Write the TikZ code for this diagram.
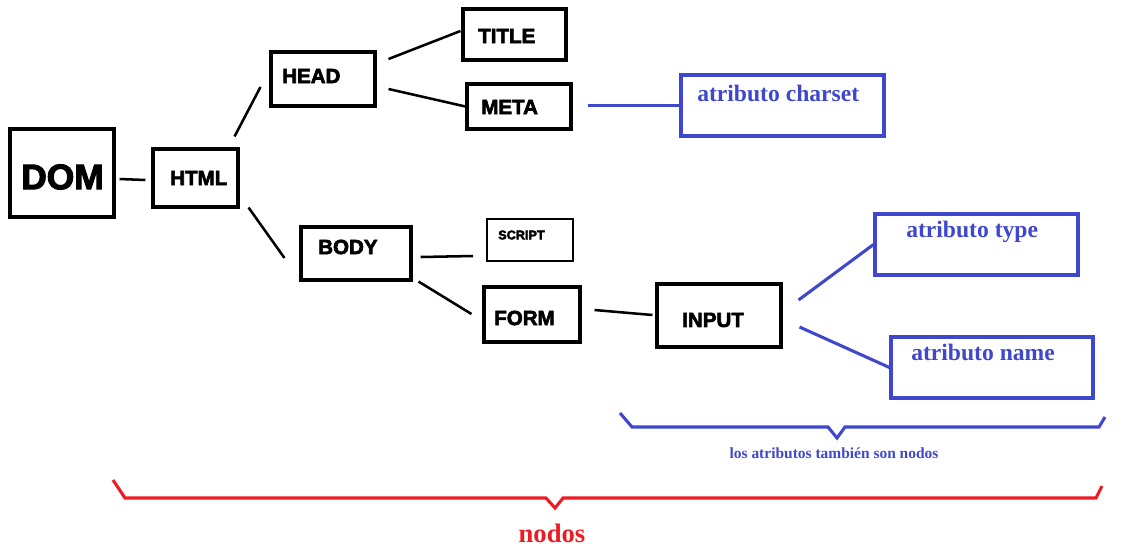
\documentclass[tikz,border=0pt]{standalone}
\usepackage{fontspec}
\usetikzlibrary{fit}

\newfontfamily\boxfont{Liberation Sans}[FakeBold=3]
\newfontfamily\attrfont{Liberation Serif}
\definecolor{paintblue}{RGB}{63,72,204}
\definecolor{paintred}{RGB}{237,28,36}

\begin{document}
\begin{tikzpicture}[x=0.75pt, y=-0.75pt,
    box/.style={draw, line width=2.3pt, inner sep=0pt},
    attr/.style={draw=paintblue, line width=2.3pt, inner sep=0pt},
    tag/.style={anchor=west, inner sep=0pt, font=\boxfont\bfseries\fontsize{15.4}{15.4}\selectfont},
    attrtag/.style={anchor=base west, inner sep=0pt, text=paintblue, font=\attrfont\bfseries\fontsize{17.7}{17.7}\selectfont},
    link/.style={line width=1.9pt},
    attrlink/.style={draw=paintblue, line width=2.3pt}]

    \useasboundingbox (0, 0) rectangle (1130, 558);

    % element boxes
    \node[box, fit={(10, 129) (114, 217)}] (dom) {};
    \node[box, fit={(153, 149) (238, 207)}] (html) {};
    \node[box, fit={(271, 52) (375, 106)}] (head) {};
    \node[box, fit={(463, 9) (566, 60)}] (title) {};
    \node[box, fit={(467, 84) (571, 129)}] (meta) {};
    \node[box, fit={(301, 227) (411, 280)}] (body) {};
    \node[box, line width=1.5pt, fit={(487, 219) (573, 261)}] (script) {};
    \node[box, fit={(484, 287) (580, 342)}] (form) {};
    \node[box, fit={(657, 284) (781, 347)}] (input) {};

    % attribute boxes
    \node[attr, fit={(681, 75) (884, 136)}] (charset) {};
    \node[attr, fit={(875, 214) (1078, 275)}] (type) {};
    \node[attr, fit={(891, 337) (1093, 398)}] (name) {};

    % texts
    \node[tag, font=\boxfont\bfseries\fontsize{26.5}{26.5}\selectfont] (domtxt) at (21, 177) {DOM};
    \node[tag] (htmltxt) at (170, 178) {HTML};
    \node[tag] (headtxt) at (282, 76) {HEAD};
    \node[tag] (titletxt) at (478, 36) {TITLE};
    \node[tag] (metatxt) at (481, 107) {META};
    \node[tag] (bodytxt) at (318, 247) {BODY};
    \node[tag, font=\boxfont\bfseries\fontsize{9.5}{9.5}\selectfont] (scripttxt) at (498, 235) {SCRIPT};
    \node[tag] (formtxt) at (494, 318) {FORM};
    \node[tag] (inputtxt) at (682, 320) {INPUT};

    \node[attrtag] (charsettxt) at (697, 101) {atributo charset};
    \node[attrtag] (typetxt) at (906, 237) {atributo type};
    \node[attrtag] (nametxt) at (911, 360) {atributo name};

    % connectors
    \draw[link] ([shift={(4, 6)}]dom.east) -- ([shift={(-6, 2)}]html.west);
    \draw[link] ([shift={(-5, -11)}]html.north east) -- ([shift={(-9, 8)}]head.west);
    \draw[link] ([shift={(9, -1)}]html.south east) -- ([shift={(-15, 4.5)}]body.west);
    \draw[link] ([shift={(12, -20)}]head.east) -- ([shift={(-1, -3.5)}]title.west);
    \draw[link] ([shift={(12, 10)}]head.east) -- (meta.west);
    \draw[link] ([shift={(8, 3.5)}]body.east) -- ([shift={(-13, 16)}]script.west);
    \draw[link] ([shift={(6, 0)}]body.south east) -- ([shift={(-11, -0.5)}]form.west);
    \draw[link] ([shift={(13, -4.5)}]form.east) -- ([shift={(-3, -0.5)}]input.west);

    \draw[attrlink] ([shift={(15, -1)}]meta.east) -- (charset.west);
    \draw[attrlink] ([shift={(16, -15.5)}]input.east) -- (type.west);
    \draw[attrlink] ([shift={(17, 11.5)}]input.east) -- (name.west);

    % braces
    \draw[paintblue, line width=2.3pt] (620, 413) -- (632, 427) -- (828, 427) -- (837, 438) -- (845, 427) -- (1099, 427) -- (1105, 417);
    \node[anchor=base, inner sep=0pt, text=paintblue, font=\attrfont\bfseries\fontsize{11.6}{11.6}\selectfont] (attrnote) at (834, 458) {los atributos también son nodos};

    \draw[paintred, line width=2.3pt] (113, 480) -- (125, 498) -- (546, 498) -- (555, 508) -- (563, 498) -- (1096, 498) -- (1102, 486);
    \node[anchor=base, inner sep=0pt, text=paintred, font=\attrfont\bfseries\fontsize{20}{20}\selectfont] (nodosnote) at (552, 542) {nodos};

\end{tikzpicture}
\end{document}
